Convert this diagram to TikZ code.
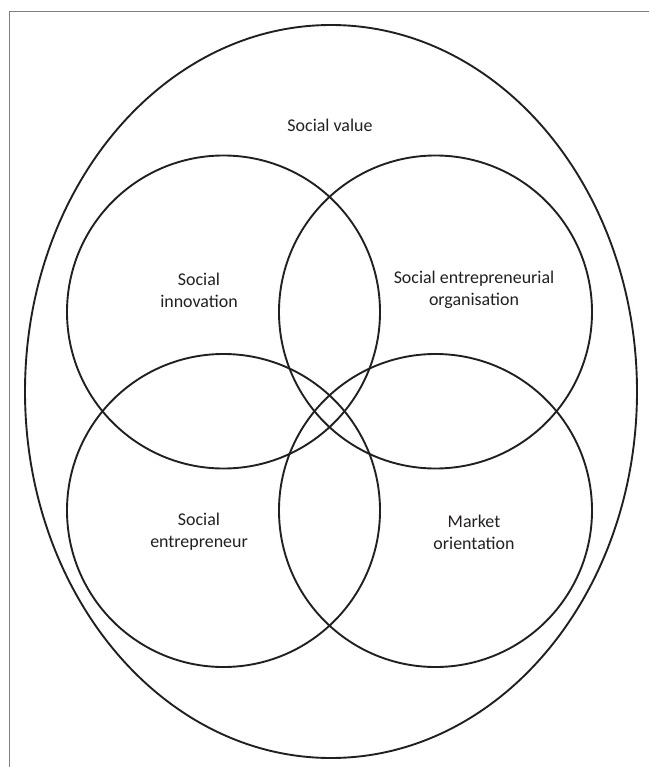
\documentclass[tikz,border=0pt]{standalone}
\usepackage{fontspec}
\setmainfont{Carlito}
\definecolor{ink}{HTML}{231F20}
\definecolor{frame}{HTML}{808080}
\begin{document}
\begin{tikzpicture}[x=1bp,y=-1bp,
		ring/.style={line width=1.9,draw=ink},
		lbl/.style={align=center,text=ink,font=\fontsize{18}{22}\selectfont}]
		\useasboundingbox (0,0) rectangle (649,767);
		\draw [line width=1,frame] (9.3,767) -- (9.3,11) -- (649,11);
		\coordinate (V) at (331,391.5);
		\coordinate (I) at (223.5,312);
		\coordinate (O) at (435.5,312);
		\coordinate (E) at (223.5,510.5);
		\coordinate (M) at (435.5,510.5);
		\draw [ring] (V) ellipse [x radius=306,y radius=366.5];
		\draw [ring] (I) circle (156.5);
		\draw [ring] (O) circle (156.5);
		\draw [ring] (E) circle (156.5);
		\draw [ring] (M) circle (156.5);
		\node [lbl] (value) at (330,125) {Social value};
		\node [lbl] (innov) at (199,290) {Social\\innovation};
		\node [lbl] (org) at (474,290) {Social entrepreneurial\\organisation};
		\node [lbl] (entr) at (199,532) {Social\\entrepreneur};
		\node [lbl] (market) at (474,532) {Market\\orientation};
	\end{tikzpicture}
\end{document}
